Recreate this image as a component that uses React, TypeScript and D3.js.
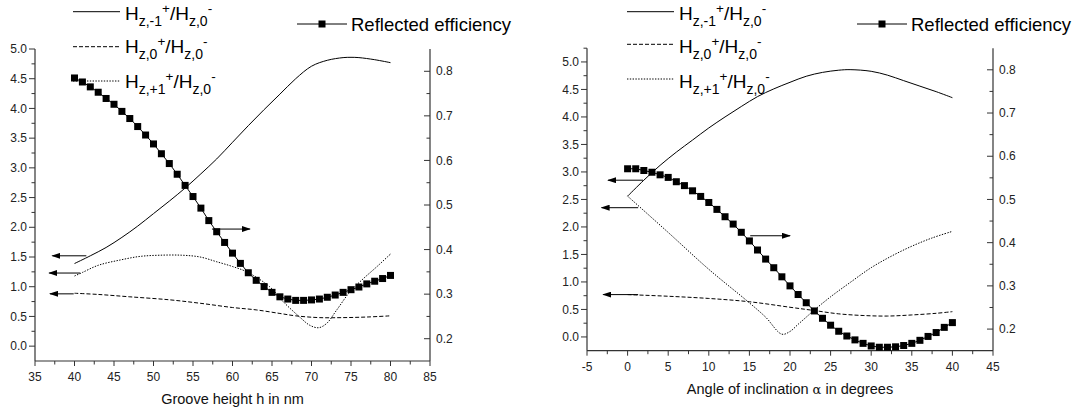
import React from "react";
import * as d3 from "d3";

// ---------- DATA: left panel (groove height) ----------
const grooveHeights = [40,41,42,43,44,45,46,47,48,49,50,51,52,53,54,55,56,57,58,59,60,61,62,63,64,65,66,67,68,69,70,71,72,73,74,75,76,77,78,79,80];
const grooveEfficiency = [0.785,0.776,0.765,0.753,0.739,0.726,0.710,0.694,0.676,0.657,0.637,0.615,0.593,0.569,0.544,0.519,0.493,0.465,0.440,0.416,0.392,0.369,0.348,0.331,0.317,0.304,0.294,0.289,0.286,0.286,0.287,0.289,0.293,0.298,0.304,0.310,0.316,0.323,0.329,0.335,0.342];

const grooveMinus1X = [40,42,44,46,48,50,52,54,56,58,60,62,64,66,68,70,72,74,75,76,78,80];
const grooveMinus1Y = [1.39,1.52,1.66,1.83,2.02,2.23,2.44,2.66,2.90,3.15,3.43,3.71,3.98,4.24,4.50,4.71,4.81,4.855,4.86,4.855,4.82,4.77];

const grooveZeroX = [40,43,47,52,56,60,63,66,68,71,74,77,80];
const grooveZeroY = [0.89,0.87,0.83,0.78,0.72,0.65,0.61,0.55,0.51,0.48,0.48,0.49,0.51];

const groovePlusX = [40,41,43,45.8,48.3,50.8,53.6,55.9,58,60,61.8,64.7,66.4,68.5,69.8,70.9,71.9,73.2,74.9,76.6,78.3,80];
const groovePlusY = [1.18,1.24,1.36,1.45,1.51,1.53,1.53,1.50,1.42,1.34,1.25,1.00,0.75,0.49,0.35,0.31,0.38,0.61,0.92,1.14,1.34,1.55];

// annotation arrows (data units): [xFrom, xTo, value, axis]
const grooveArrows: [number, number, number, "L" | "R"][] = [
  [41.5, 37.2, 1.52, "L"],
  [40.7, 36.8, 1.23, "L"],
  [39.9, 36.9, 0.88, "L"],
  [57.4, 62.2, 0.446, "R"],
];

// ---------- DATA: right panel (angle) ----------
const angles = [0,1,2,3,4,5,6,7,8,9,10,11,12,13,14,15,16,17,18,19,20,21,22,23,24,25,26,27,28,29,30,31,32,33,34,35,36,37,38,39,40];
const angleEfficiency = [0.571,0.571,0.567,0.563,0.557,0.551,0.541,0.532,0.520,0.507,0.493,0.477,0.460,0.443,0.424,0.404,0.383,0.362,0.342,0.321,0.300,0.280,0.261,0.242,0.225,0.209,0.195,0.184,0.175,0.167,0.161,0.158,0.158,0.159,0.162,0.167,0.174,0.183,0.192,0.204,0.215];

const angleMinus1X = [0,2,4,6,8,10,12,14,16,18,20,22,24,26,27.4,30,32,34,36,38,40];
const angleMinus1Y = [2.56,2.85,3.12,3.36,3.58,3.80,4.00,4.19,4.37,4.51,4.63,4.74,4.81,4.85,4.86,4.83,4.76,4.66,4.56,4.46,4.35];

const angleZeroX = [0,5,10,15,20,23,26,29,32,35,38,40];
const angleZeroY = [0.77,0.74,0.70,0.64,0.54,0.48,0.42,0.39,0.38,0.40,0.43,0.46];

const anglePlusX = [0,5,10,15,17,19,20,21,22,23,25,27.5,30,32.5,35,37.5,40];
const anglePlusY = [2.56,1.90,1.23,0.62,0.36,0.05,0.10,0.23,0.36,0.49,0.73,1.0,1.26,1.47,1.65,1.80,1.92];

const angleArrows: [number, number, number, "L" | "R"][] = [
  [1.9, -2.4, 2.85, "L"],
  [1.3, -3.2, 2.35, "L"],
  [1.3, -3.0, 0.77, "L"],
  [15.1, 20.0, 0.416, "R"],
];

// ---------- tick values ----------
const leftTicks = [0, 0.5, 1, 1.5, 2, 2.5, 3, 3.5, 4, 4.5, 5];
const leftMinor = [0.25, 0.75, 1.25, 1.75, 2.25, 2.75, 3.25, 3.75, 4.25, 4.75];
const rightTicks = [0.2, 0.3, 0.4, 0.5, 0.6, 0.7, 0.8];
const rightMinor = [0.25, 0.35, 0.45, 0.55, 0.65, 0.75];
const grooveTicks = [35, 40, 45, 50, 55, 60, 65, 70, 75, 80, 85];
const grooveMinor = [37.5, 42.5, 47.5, 52.5, 57.5, 62.5, 67.5, 72.5, 77.5, 82.5];
const angleTicks = [-5, 0, 5, 10, 15, 20, 25, 30, 35, 40, 45];
const angleMinor = [-2.5, 2.5, 7.5, 12.5, 17.5, 22.5, 27.5, 32.5, 37.5, 42.5];

const FONT = "'Liberation Sans', Arial, Helvetica, sans-serif";
const AXIS = "#333";
const DASH = "4,2";
const DOT = "1.4,1.4";

type PanelProps = {
  xDomain: [number, number]; xRange: [number, number];
  yLDomain: [number, number]; yRDomain: [number, number]; yRange: [number, number];
  xTicks: number[]; xMinor: number[]; yLMinor: number[];
  effX: number[]; effY: number[];
  m1X: number[]; m1Y: number[]; z0X: number[]; z0Y: number[]; p1X: number[]; p1Y: number[];
  arrows: [number, number, number, "L" | "R"][];
  xTitle: React.ReactNode;
  legendX: number; legendLineY: number[]; legendTextY: number[];
  effLegendX: number;
};

function HLabel({ x, y, sub }: { x: number; y: number; sub: string }) {
  return (
    <text x={x} y={y} fontFamily={FONT} fontSize={19} fill="#000">
      <tspan>H</tspan>
      <tspan fontSize={14} y={y + 6}>{"z," + sub}</tspan>
      <tspan fontSize={13.5} y={y - 7}>+</tspan>
      <tspan y={y}>/H</tspan>
      <tspan fontSize={14} y={y + 6}>z,0</tspan>
      <tspan fontSize={13.5} y={y - 7}>-</tspan>
    </text>
  );
}

function Panel(p: PanelProps) {
  const x = d3.scaleLinear().domain(p.xDomain).range(p.xRange);
  const yL = d3.scaleLinear().domain(p.yLDomain).range(p.yRange);
  const yR = d3.scaleLinear().domain(p.yRDomain).range(p.yRange);
  const [x0, x1] = p.xRange;
  const [yb, yt] = p.yRange;

  const lineL = (xs: number[], ys: number[]) =>
    d3.line<number>().x((_, i) => x(xs[i])).y((d) => yL(d)).curve(d3.curveCatmullRom.alpha(0.5))(ys) || "";
  const effLine = d3.line<number>().x((_, i) => x(p.effX[i])).y((d) => yR(d))(p.effY) || "";

  const fmt = d3.format(".1f");
  const sq = 7;

  return (
    <g>
      {/* legend */}
      {["", DASH, DOT].map((dash, i) => (
        <line key={"lg" + i} x1={p.legendX} x2={p.legendX + 47} y1={p.legendLineY[i]} y2={p.legendLineY[i]}
          stroke="#000" strokeWidth={1} strokeDasharray={dash || undefined} />
      ))}
      <HLabel x={p.legendX + 52} y={p.legendTextY[0]} sub="-1" />
      <HLabel x={p.legendX + 52} y={p.legendTextY[1]} sub="0" />
      <HLabel x={p.legendX + 52} y={p.legendTextY[2]} sub="+1" />
      <line x1={p.effLegendX} x2={p.effLegendX + 50} y1={24} y2={24} stroke="#000" strokeWidth={1} />
      <rect x={p.effLegendX + 25 - sq / 2} y={24 - sq / 2} width={sq} height={sq} fill="#000" />
      <text x={p.effLegendX + 54} y={31} fontFamily={FONT} fontSize={18.5} fill="#000">Reflected efficiency</text>

      {/* axes */}
      <line x1={x0} x2={x0} y1={yb} y2={yt} stroke={AXIS} strokeWidth={1.2} />
      <line x1={x1} x2={x1} y1={yb} y2={yt} stroke={AXIS} strokeWidth={1.2} />
      <line x1={x0} x2={x1} y1={yb} y2={yb} stroke={AXIS} strokeWidth={1.2} />
      {leftTicks.map((t) => (
        <g key={"yl" + t}>
          <line x1={x0 - 6} x2={x0} y1={yL(t)} y2={yL(t)} stroke={AXIS} strokeWidth={1} />
          <text x={x0 - 8} y={yL(t)} dy="0.35em" textAnchor="end" fontFamily={FONT} fontSize={12} fill="#222">{fmt(t)}</text>
        </g>
      ))}
      {p.yLMinor.map((t) => (
        <line key={"ylm" + t} x1={x0 - 3.5} x2={x0} y1={yL(t)} y2={yL(t)} stroke={AXIS} strokeWidth={1} />
      ))}
      {rightTicks.map((t) => (
        <g key={"yr" + t}>
          <line x1={x1 - 6} x2={x1} y1={yR(t)} y2={yR(t)} stroke={AXIS} strokeWidth={1} />
          <text x={x1 + 6} y={yR(t)} dy="0.35em" textAnchor="start" fontFamily={FONT} fontSize={12} fill="#222">{fmt(t)}</text>
        </g>
      ))}
      {rightMinor.map((t) => (
        <line key={"yrm" + t} x1={x1 - 3.5} x2={x1} y1={yR(t)} y2={yR(t)} stroke={AXIS} strokeWidth={1} />
      ))}
      {p.xTicks.map((t) => (
        <g key={"x" + t}>
          <line x1={x(t)} x2={x(t)} y1={yb} y2={yb + 5} stroke={AXIS} strokeWidth={1} />
          <text x={x(t)} y={yb + 20} textAnchor="middle" fontFamily={FONT} fontSize={12} fill="#222">{String(t)}</text>
        </g>
      ))}
      {p.xMinor.map((t) => (
        <line key={"xm" + t} x1={x(t)} x2={x(t)} y1={yb} y2={yb + 3.5} stroke={AXIS} strokeWidth={1} />
      ))}
      <text x={(x0 + x1) / 2} y={yb + 43} textAnchor="middle" fontFamily={FONT} fontSize={14.5} fill="#111">{p.xTitle}</text>

      {/* curves */}
      <path d={lineL(p.z0X, p.z0Y)} fill="none" stroke="#000" strokeWidth={1} strokeDasharray={DASH} />
      <path d={lineL(p.p1X, p.p1Y)} fill="none" stroke="#000" strokeWidth={1} strokeDasharray={DOT} />
      <path d={lineL(p.m1X, p.m1Y)} fill="none" stroke="#000" strokeWidth={1} />
      <path d={effLine} fill="none" stroke="#000" strokeWidth={1} />
      {p.effY.map((v, i) => (
        <rect key={"sq" + i} x={x(p.effX[i]) - sq / 2} y={yR(v) - sq / 2} width={sq} height={sq} fill="#000" />
      ))}

      {/* arrows */}
      {p.arrows.map(([a, b, v, ax], i) => {
        const yy = ax === "L" ? yL(v) : yR(v);
        return (
          <line key={"ar" + i} x1={x(a)} x2={x(b)} y1={yy} y2={yy} stroke="#000" strokeWidth={1} markerEnd="url(#arrowHead)" />
        );
      })}
    </g>
  );
}

export default function App() {
  return (
    <div style={{ position: "fixed", left: 0, top: 0, width: 1081, height: 415, background: "#fff" }}>
      <svg width={1081} height={415} viewBox="0 0 1081 415" style={{ display: "block" }}>
        <defs>
          <marker id="arrowHead" markerUnits="userSpaceOnUse" markerWidth={9} markerHeight={6} refX={8} refY={3} orient="auto">
            <path d="M0,0 L9,3 L0,6 Z" fill="#000" />
          </marker>
        </defs>
        <rect width={1081} height={415} fill="#fff" />
        <Panel
          xDomain={[35, 85]} xRange={[35, 430]}
          yLDomain={[-0.25, 5.0]} yRDomain={[0.15, 0.85]} yRange={[361, 49]}
          xTicks={grooveTicks} xMinor={grooveMinor} yLMinor={leftMinor}
          effX={grooveHeights} effY={grooveEfficiency}
          m1X={grooveMinus1X} m1Y={grooveMinus1Y}
          z0X={grooveZeroX} z0Y={grooveZeroY}
          p1X={groovePlusX} p1Y={groovePlusY}
          arrows={grooveArrows}
          xTitle="Groove height h in nm"
          legendX={73} legendLineY={[11.7, 46.7, 81]} legendTextY={[19.5, 53.3, 88.3]}
          effLegendX={297}
        />
        <Panel
          xDomain={[-5, 45]} xRange={[587, 993]}
          yLDomain={[-0.25, 5.25]} yRDomain={[0.15, 0.85]} yRange={[350.7, 48.2]}
          xTicks={angleTicks} xMinor={angleMinor} yLMinor={[...leftMinor, 5.25]}
          effX={angles} effY={angleEfficiency}
          m1X={angleMinus1X} m1Y={angleMinus1Y}
          z0X={angleZeroX} z0Y={angleZeroY}
          p1X={anglePlusX} p1Y={anglePlusY}
          arrows={angleArrows}
          xTitle={<>Angle of inclination <tspan fontFamily="'DejaVu Serif', serif" fontSize={13}>α</tspan> in degrees</>}
          legendX={627} legendLineY={[11.7, 44.3, 79]} legendTextY={[19.5, 52.5, 87.5]}
          effLegendX={857}
        />
      </svg>
    </div>
  );
}
